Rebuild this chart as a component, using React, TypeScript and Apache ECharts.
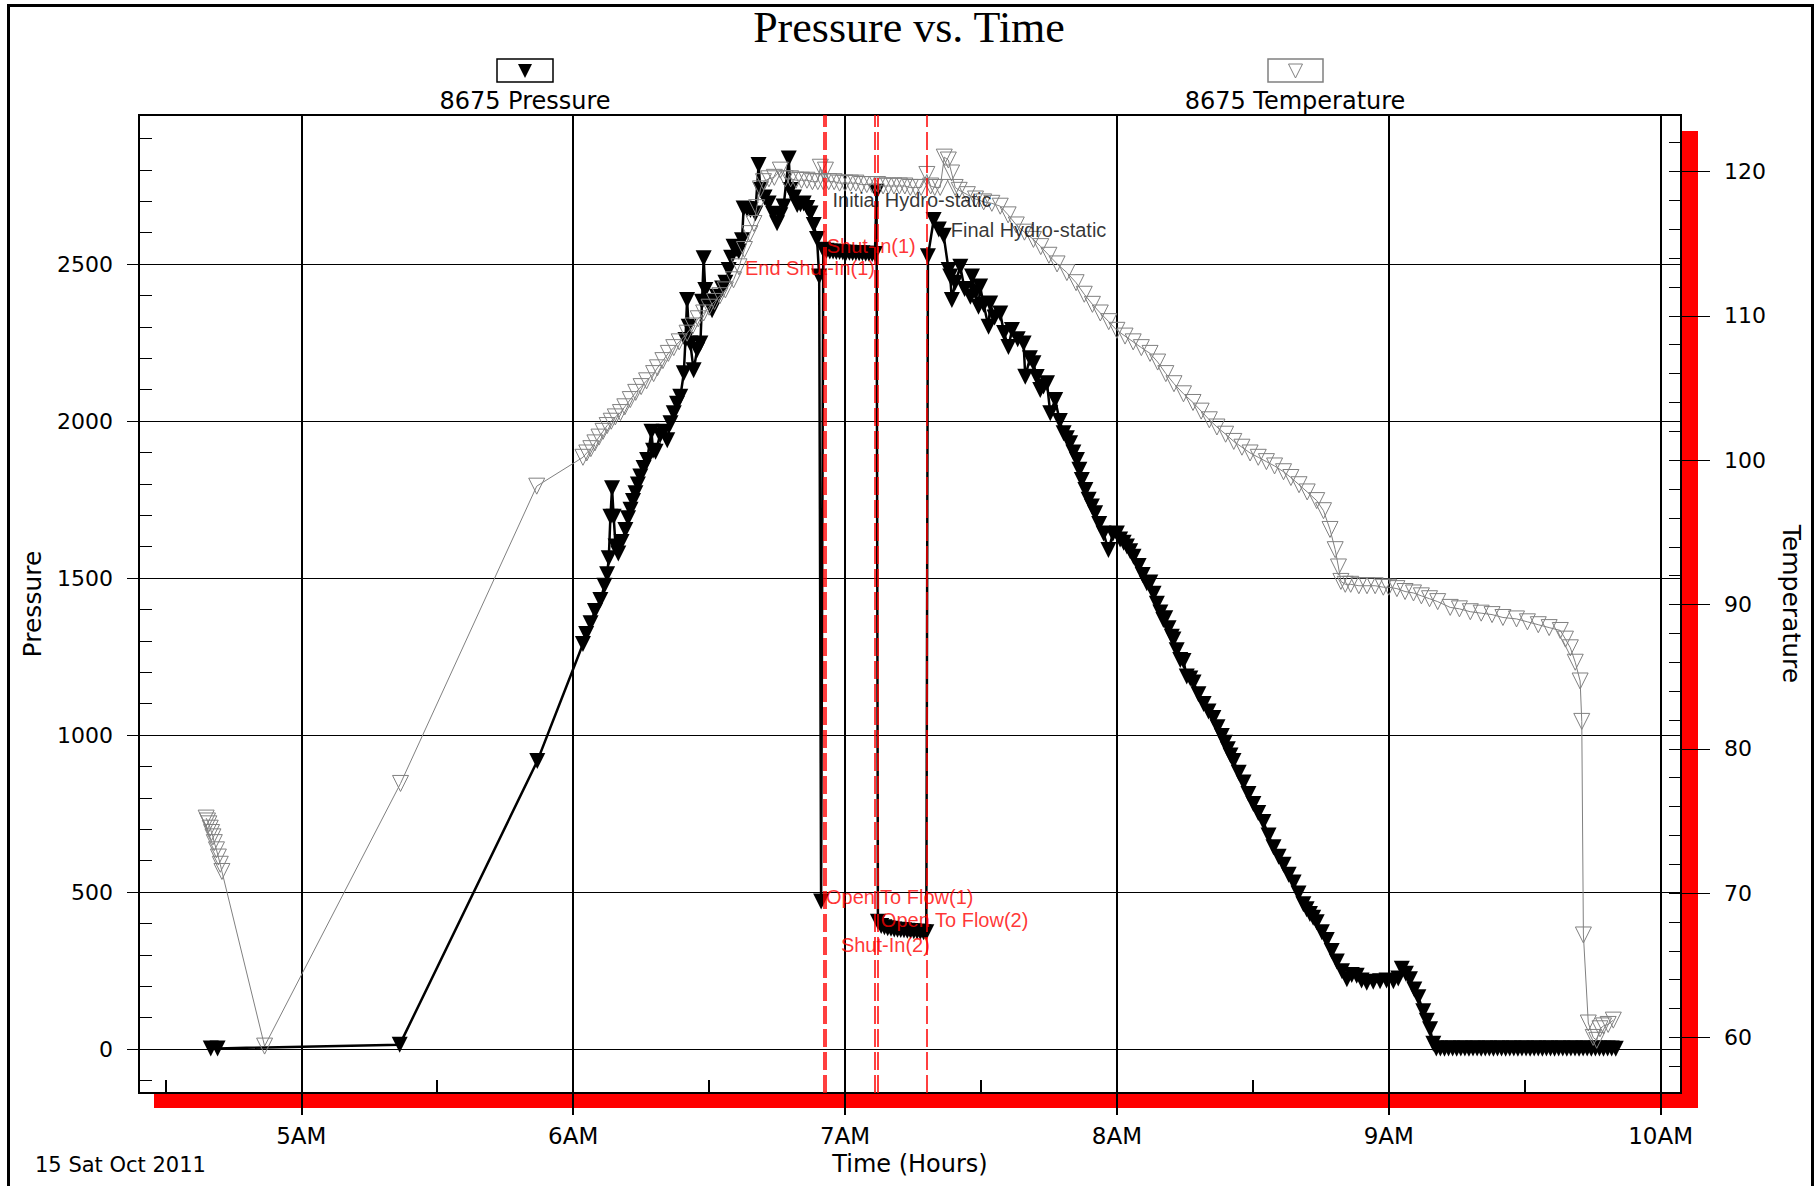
import React, { useEffect, useRef } from "react";
import * as echarts from "echarts";

// ---- axis ticks ----
const hourTicks = [5, 6, 7, 8, 9, 10];
const halfHourTicks = [4.5, 5.5, 6.5, 7.5, 8.5, 9.5];
const pressureTicks = [0, 500, 1000, 1500, 2000, 2500];
const pressureMinorTicks = [-100, 0, 100, 200, 300, 400, 500, 600, 700, 800, 900, 1000, 1100, 1200, 1300, 1400, 1500, 1600, 1700, 1800, 1900, 2000, 2100, 2200, 2300, 2400, 2500, 2600, 2700, 2800, 2900];
const temperatureTicks = [60, 70, 80, 90, 100, 110, 120];
const temperatureMinorTicks = [58, 60, 62, 64, 66, 68, 70, 72, 74, 76, 78, 80, 82, 84, 86, 88, 90, 92, 94, 96, 98, 100, 102, 104, 106, 108, 110, 112, 114, 116, 118, 120, 122];

// ---- series: [time in hours, value] ----
const pressureData: [number, number][] = [
  [4.667, 2], [4.692, 2], [5.362, 14], [5.868, 917],
  [6.036, 1290], [6.048, 1322], [6.064, 1356], [6.080, 1395], [6.100, 1430], [6.115, 1475], [6.125, 1512],
  [6.131, 1563], [6.137, 1695], [6.143, 1786], [6.149, 1695], [6.156, 1600], [6.166, 1578], [6.178, 1615],
  [6.192, 1653], [6.202, 1690], [6.211, 1717], [6.220, 1745], [6.229, 1770], [6.238, 1798], [6.247, 1823],
  [6.259, 1850], [6.272, 1876], [6.288, 1966], [6.294, 1905], [6.303, 1902], [6.320, 1955], [6.333, 1966],
  [6.346, 1939], [6.358, 1993], [6.370, 2025], [6.382, 2055], [6.394, 2077], [6.407, 2152], [6.413, 2258],
  [6.419, 2385], [6.425, 2300], [6.431, 2247], [6.443, 2162], [6.456, 2226], [6.468, 2247], [6.474, 2380],
  [6.480, 2518], [6.486, 2417], [6.498, 2380], [6.511, 2353], [6.520, 2375], [6.529, 2396], [6.548, 2422],
  [6.560, 2440], [6.572, 2481], [6.581, 2520], [6.590, 2555], [6.600, 2548], [6.609, 2540], [6.621, 2576],
  [6.627, 2677], [6.640, 2675], [6.652, 2672], [6.670, 2661], [6.682, 2815], [6.689, 2736], [6.704, 2712],
  [6.719, 2693], [6.735, 2660], [6.750, 2630], [6.762, 2655], [6.774, 2683], [6.793, 2836], [6.799, 2736],
  [6.812, 2712], [6.824, 2688], [6.836, 2690], [6.848, 2693], [6.861, 2678], [6.873, 2661], [6.885, 2624],
  [6.897, 2580], [6.905, 2460], [6.912, 470], [6.920, 2545],
  [6.932, 2542], [6.944, 2540], [6.956, 2540], [6.968, 2538], [6.980, 2538], [6.992, 2537], [7.004, 2536],
  [7.016, 2536], [7.028, 2535], [7.040, 2535], [7.052, 2534], [7.064, 2534], [7.076, 2533], [7.088, 2533],
  [7.100, 2532], [7.110, 2532], [7.116, 2730], [7.121, 405],
  [7.133, 392], [7.145, 388], [7.157, 385], [7.169, 383], [7.181, 381], [7.193, 380], [7.205, 379],
  [7.217, 378], [7.229, 377], [7.241, 376], [7.253, 375], [7.265, 374], [7.277, 373], [7.289, 372], [7.299, 372],
  [7.305, 2525], [7.326, 2640], [7.345, 2610], [7.363, 2590], [7.381, 2481], [7.387, 2460], [7.393, 2385],
  [7.405, 2440], [7.424, 2491], [7.440, 2420], [7.461, 2396], [7.467, 2460], [7.480, 2410], [7.491, 2364],
  [7.497, 2428], [7.510, 2370], [7.528, 2300], [7.534, 2374], [7.550, 2330], [7.571, 2342], [7.585, 2280],
  [7.601, 2236], [7.614, 2290], [7.635, 2260], [7.657, 2247], [7.663, 2141], [7.680, 2200], [7.693, 2184],
  [7.705, 2140], [7.718, 2099], [7.730, 2110], [7.743, 2120], [7.755, 2025], [7.773, 2067], [7.790, 2000],
  [7.804, 1961], [7.816, 1945], [7.828, 1929], [7.840, 1900], [7.853, 1876], [7.862, 1845], [7.871, 1812],
  [7.884, 1780], [7.896, 1749], [7.908, 1728], [7.920, 1706], [7.935, 1672], [7.951, 1642], [7.969, 1589],
  [7.985, 1640], [8.000, 1642], [8.012, 1623], [8.025, 1612], [8.037, 1600], [8.049, 1585], [8.061, 1568],
  [8.080, 1538], [8.095, 1510], [8.110, 1483], [8.123, 1486], [8.135, 1450], [8.147, 1418], [8.160, 1390],
  [8.171, 1366], [8.178, 1372], [8.190, 1340], [8.202, 1313], [8.208, 1304], [8.220, 1270], [8.233, 1239],
  [8.245, 1236], [8.257, 1186], [8.270, 1180], [8.282, 1167], [8.300, 1130], [8.319, 1099], [8.337, 1075],
  [8.355, 1054], [8.370, 1025], [8.386, 997], [8.397, 975], [8.408, 955], [8.418, 935], [8.429, 917],
  [8.448, 880], [8.466, 849], [8.484, 812], [8.502, 780], [8.520, 752], [8.539, 723], [8.558, 680],
  [8.576, 643], [8.595, 612], [8.613, 587], [8.632, 555], [8.650, 530], [8.668, 495], [8.686, 461],
  [8.698, 445], [8.710, 430], [8.722, 418], [8.735, 404], [8.754, 372], [8.772, 347], [8.790, 312],
  [8.809, 279], [8.828, 248], [8.846, 222], [8.864, 236], [8.882, 233], [8.900, 218],
  [8.919, 211], [8.943, 214], [8.968, 216], [8.992, 218], [9.017, 216], [9.035, 225], [9.048, 256],
  [9.063, 240], [9.078, 222], [9.094, 190], [9.109, 165], [9.127, 120], [9.140, 90], [9.152, 63], [9.164, 17],
  [9.175, 2], [9.190, 2], [9.205, 1], [9.220, 2], [9.235, 2], [9.250, 1], [9.265, 2], [9.280, 2], [9.295, 1],
  [9.310, 2], [9.325, 2], [9.340, 1], [9.355, 2], [9.370, 2], [9.385, 1], [9.400, 2], [9.415, 2], [9.430, 1],
  [9.445, 2], [9.460, 2], [9.475, 1], [9.490, 2], [9.505, 2], [9.520, 1], [9.535, 2], [9.550, 2], [9.565, 1],
  [9.580, 2], [9.595, 2], [9.610, 1], [9.625, 2], [9.640, 2], [9.655, 1], [9.670, 2], [9.685, 2], [9.700, 1],
  [9.715, 2], [9.730, 2], [9.745, 1], [9.760, 2], [9.775, 2], [9.790, 1], [9.805, 2], [9.820, 2], [9.835, 1],
];

const temperatureData: [number, number][] = [
  [4.650, 75.2], [4.655, 75.0], [4.660, 74.8], [4.665, 74.5], [4.670, 74.2], [4.675, 73.9], [4.680, 73.5],
  [4.688, 73.0], [4.695, 72.5], [4.702, 72.0], [4.708, 71.5], [4.865, 59.4], [5.365, 77.6], [5.866, 98.2],
  [6.036, 100.2], [6.050, 100.5], [6.065, 100.8], [6.080, 101.2], [6.095, 101.6], [6.110, 102.0], [6.125, 102.4],
  [6.140, 102.7], [6.155, 103.0], [6.174, 103.3], [6.190, 103.7], [6.210, 104.2], [6.230, 104.7], [6.250, 105.1],
  [6.270, 105.5], [6.296, 106.0], [6.310, 106.4], [6.330, 106.9], [6.350, 107.4], [6.370, 107.8], [6.390, 108.2],
  [6.419, 108.8], [6.440, 109.3], [6.460, 109.8], [6.480, 110.2], [6.500, 110.6], [6.520, 111.0], [6.540, 111.4],
  [6.560, 111.8], [6.590, 112.5], [6.610, 113.4], [6.630, 114.6], [6.650, 115.7], [6.665, 116.4], [6.675, 117.5],
  [6.689, 118.8], [6.700, 119.3], [6.720, 119.5], [6.740, 119.6], [6.762, 120.1], [6.780, 119.5], [6.800, 119.5],
  [6.820, 119.4], [6.840, 119.4], [6.860, 119.4], [6.880, 119.3], [6.900, 119.3], [6.909, 120.3], [6.920, 119.3],
  [6.928, 120.1], [6.940, 119.3], [6.960, 119.3], [6.980, 119.2], [7.000, 119.2], [7.020, 119.2], [7.040, 119.2],
  [7.060, 119.1], [7.080, 119.1], [7.100, 119.1], [7.120, 119.1], [7.140, 119.0], [7.160, 119.0], [7.180, 119.0],
  [7.200, 119.0], [7.220, 119.0], [7.240, 118.9], [7.260, 118.9], [7.280, 118.9], [7.301, 119.8], [7.315, 119.0],
  [7.330, 118.9], [7.350, 118.9], [7.365, 121.0], [7.380, 120.8], [7.392, 119.9], [7.405, 118.9], [7.420, 118.7],
  [7.450, 118.4], [7.480, 118.1], [7.510, 117.9], [7.540, 117.8], [7.571, 117.6], [7.600, 117.0], [7.630, 116.3],
  [7.660, 115.8], [7.693, 115.3], [7.720, 114.8], [7.750, 114.2], [7.780, 113.6], [7.816, 113.0], [7.850, 112.3],
  [7.880, 111.5], [7.910, 110.8], [7.939, 110.2], [7.970, 109.6], [8.000, 109.0], [8.030, 108.6], [8.060, 108.2],
  [8.090, 107.8], [8.122, 107.4], [8.150, 106.8], [8.180, 106.0], [8.210, 105.3], [8.245, 104.6], [8.280, 104.0],
  [8.310, 103.4], [8.340, 102.8], [8.368, 102.3], [8.400, 101.8], [8.430, 101.3], [8.460, 100.9], [8.490, 100.5],
  [8.520, 100.2], [8.550, 99.9], [8.580, 99.6], [8.613, 99.2], [8.640, 98.8], [8.670, 98.3], [8.700, 97.8],
  [8.735, 97.2], [8.760, 96.5], [8.784, 95.2], [8.803, 93.8], [8.815, 92.6], [8.824, 91.6], [8.840, 91.4],
  [8.860, 91.4], [8.890, 91.3], [8.920, 91.3], [8.950, 91.3], [8.980, 91.2], [9.000, 91.2], [9.030, 91.1],
  [9.060, 90.9], [9.091, 90.8], [9.120, 90.6], [9.150, 90.4], [9.180, 90.2], [9.226, 89.8], [9.260, 89.7],
  [9.300, 89.5], [9.340, 89.4], [9.380, 89.3], [9.420, 89.1], [9.470, 89.0], [9.510, 88.8], [9.550, 88.6],
  [9.590, 88.4], [9.631, 88.2], [9.650, 87.6], [9.668, 87.0], [9.686, 86.0], [9.704, 84.7], [9.710, 81.9],
  [9.716, 67.1], [9.734, 61.0], [9.752, 60.0], [9.765, 59.8], [9.777, 60.6], [9.790, 60.8], [9.807, 60.9],
  [9.826, 61.2],
];

// ---- events (time of each red marker line) ----
const eventTimes = [6.9165, 6.926, 7.106, 7.121, 7.305];

// ---- annotation texts anchored in data space (time, pressure) ----
const annotationTexts = ["Initial Hydro-static", "Shut-In(1)", "End Shut-In(1)", "Final Hydro-static", "Open To Flow(1)", "Open To Flow(2)", "Shut-In(2)"];
const annotationTimes = [6.952, 6.931, 6.630, 7.387, 6.928, 7.130, 6.983];
const annotationValues = [2704, 2558, 2486, 2608, 485, 411, 331];
const annotationIsEvent = [false, true, true, false, true, true, true];

const RED = "#ff0000";
const GRAY = "#808080";

export default function App() {
  const ref = useRef<HTMLDivElement>(null);

  useEffect(() => {
    if (!ref.current) return;
    const chart = echarts.init(ref.current, null, { renderer: "svg" });

    const xMin = 4.403;
    const xMax = 10.075;
    const pMin = -140;
    const pMax = 2974.5;
    const tMin = 56.15;
    const tMax = 123.92;
    const plain = (v: number) => String(Math.round(v));

    const option: any = {
      animation: false,
      backgroundColor: "#ffffff",
      textStyle: { fontFamily: "DejaVu Sans", color: "#000" },
      title: {
        text: "Pressure vs. Time",
        left: "center",
        top: 0,
        textStyle: { fontFamily: "Liberation Serif", fontSize: 44, fontWeight: "normal", color: "#000" },
      },
      grid: {
        left: 139,
        top: 115,
        width: 1542,
        height: 978,
        containLabel: false,
        outerBoundsMode: "none",
        show: true,
        backgroundColor: "#ffffff",
        borderColor: "#000",
        borderWidth: 2,
      },
      xAxis: [
        {
          type: "value",
          min: xMin,
          max: xMax,
          position: "bottom",
          name: "Time (Hours)",
          nameLocation: "middle",
          nameGap: 59,
          nameTextStyle: { fontSize: 24, color: "#000", fontFamily: "DejaVu Sans" },
          axisLine: { show: true, onZero: false, lineStyle: { color: "#000", width: 2 } },
          axisTick: { show: true, customValues: hourTicks, inside: false, length: 22, lineStyle: { color: "#000", width: 2 } },
          axisLabel: {
            show: true,
            customValues: hourTicks,
            margin: 31,
            fontSize: 23,
            color: "#000",
            fontFamily: "DejaVu Sans",
            formatter: (v: number) => `${Math.round(v)}AM`,
          },
          splitLine: { show: true, lineStyle: { color: "#000", width: 2 } },
        },
        {
          type: "value",
          min: xMin,
          max: xMax,
          position: "bottom",
          axisLine: { show: false, onZero: false },
          axisTick: { show: true, customValues: halfHourTicks, inside: true, length: 13, lineStyle: { color: "#000", width: 2 } },
          axisLabel: { show: false },
          splitLine: { show: false },
        },
      ],
      yAxis: [
        {
          type: "value",
          min: pMin,
          max: pMax,
          position: "left",
          name: "Pressure",
          nameLocation: "middle",
          nameRotate: 90,
          nameGap: 94,
          nameTextStyle: { fontSize: 25, color: "#000", fontFamily: "DejaVu Sans" },
          axisLine: { show: true, onZero: false, lineStyle: { color: "#000", width: 2 } },
          axisTick: { show: true, customValues: pressureTicks, inside: false, length: 12, lineStyle: { color: "#000", width: 1 } },
          axisLabel: { show: true, customValues: pressureTicks, margin: 26, fontSize: 22, color: "#000", fontFamily: "DejaVu Sans", formatter: plain },
          splitLine: { show: true, lineStyle: { color: "#000", width: 1 } },
        },
        {
          type: "value",
          min: pMin,
          max: pMax,
          position: "left",
          axisLine: { show: false, onZero: false },
          axisTick: { show: true, customValues: pressureMinorTicks, inside: true, length: 13, lineStyle: { color: "#000", width: 1 } },
          axisLabel: { show: false },
          splitLine: { show: false },
        },
        {
          type: "value",
          min: tMin,
          max: tMax,
          position: "right",
          name: "Temperature",
          nameLocation: "middle",
          nameRotate: -90,
          nameGap: 98,
          nameTextStyle: { fontSize: 25, color: "#000", fontFamily: "DejaVu Sans" },
          axisLine: { show: true, onZero: false, lineStyle: { color: "#000", width: 2 } },
          axisTick: { show: true, customValues: temperatureTicks, inside: false, length: 29, lineStyle: { color: "#000", width: 1 } },
          axisLabel: { show: true, customValues: temperatureTicks, margin: 43, fontSize: 22, color: "#000", fontFamily: "DejaVu Sans", formatter: plain },
          splitLine: { show: false },
        },
        {
          type: "value",
          min: tMin,
          max: tMax,
          position: "right",
          axisLine: { show: false, onZero: false },
          axisTick: { show: true, customValues: temperatureMinorTicks, inside: true, length: 12, lineStyle: { color: "#000", width: 1 } },
          axisLabel: { show: false },
          splitLine: { show: false },
        },
      ],
      series: [
        {
          name: "8675 Pressure",
          type: "line",
          xAxisIndex: 0,
          yAxisIndex: 0,
          data: pressureData,
          showAllSymbol: true,
          symbol: "triangle",
          symbolRotate: 180,
          symbolSize: [16, 16],
          itemStyle: { color: "#000" },
          lineStyle: { color: "#000", width: 2.5 },
          z: 3,
          markLine: {
            silent: true,
            symbol: "none",
            animation: false,
            label: { show: false },
            lineStyle: { color: RED, type: [18, 5], width: 1.5 },
            data: eventTimes.map((t) => ({ xAxis: t })),
          },
        },
        {
          name: "8675 Temperature",
          type: "line",
          xAxisIndex: 0,
          yAxisIndex: 2,
          data: temperatureData,
          showAllSymbol: true,
          symbol: "triangle",
          symbolRotate: 180,
          symbolSize: [16, 16],
          itemStyle: { color: "rgba(255,255,255,0)", borderColor: GRAY, borderWidth: 1 },
          lineStyle: { color: GRAY, width: 1 },
          z: 4,
        },
        {
          name: "events",
          type: "scatter",
          xAxisIndex: 0,
          yAxisIndex: 0,
          symbolSize: 1,
          itemStyle: { color: "rgba(0,0,0,0)" },
          z: 6,
          label: {
            show: true,
            position: "right",
            distance: 0,
            fontFamily: "Liberation Sans",
            fontSize: 20,
            formatter: (p: any) => p.name,
          },
          data: annotationTexts.map((text, i) => ({
            name: text,
            value: [annotationTimes[i], annotationValues[i]],
            label: { color: annotationIsEvent[i] ? RED : "#000" },
          })),
        },
      ],
      graphic: [
        { type: "rect", z: -10, silent: true, shape: { x: 154, y: 131, width: 1544, height: 977 }, style: { fill: RED } },
        { type: "rect", z: 50, silent: true, shape: { x: 8.5, y: 5.5, width: 1804, height: 1300 }, style: { fill: "none", stroke: "#000", lineWidth: 3 } },
        { type: "rect", silent: true, shape: { x: 497, y: 59, width: 56, height: 23 }, style: { fill: "#fff", stroke: "#000", lineWidth: 1.5 } },
        { type: "polygon", silent: true, shape: { points: [[518, 64], [532, 64], [525, 78]] }, style: { fill: "#000" } },
        { type: "rect", silent: true, shape: { x: 1268, y: 59, width: 55, height: 23 }, style: { fill: "#fff", stroke: GRAY, lineWidth: 1.5 } },
        { type: "polygon", silent: true, shape: { points: [[1288.5, 64], [1302.5, 64], [1295.5, 78]] }, style: { fill: "none", stroke: GRAY, lineWidth: 1 } },
        { type: "text", silent: true, x: 525, y: 101, style: { text: "8675 Pressure", fill: "#000", fontSize: 24, fontFamily: "DejaVu Sans", align: "center", verticalAlign: "middle", textAlign: "center", textVerticalAlign: "middle" } },
        { type: "text", silent: true, x: 1295, y: 101, style: { text: "8675 Temperature", fill: "#000", fontSize: 24, fontFamily: "DejaVu Sans", align: "center", verticalAlign: "middle", textAlign: "center", textVerticalAlign: "middle" } },
        { type: "text", silent: true, x: 35, y: 1165, style: { text: "15 Sat Oct 2011", fill: "#000", fontSize: 21, fontFamily: "DejaVu Sans", align: "left", verticalAlign: "middle", textAlign: "left", textVerticalAlign: "middle" } },
      ],
    };

    chart.setOption(option);
    return () => chart.dispose();
  }, []);

  return (
    <div
      ref={ref}
      style={{ position: "fixed", left: 0, top: 0, width: 1818, height: 1186, background: "#fff" }}
    />
  );
}
